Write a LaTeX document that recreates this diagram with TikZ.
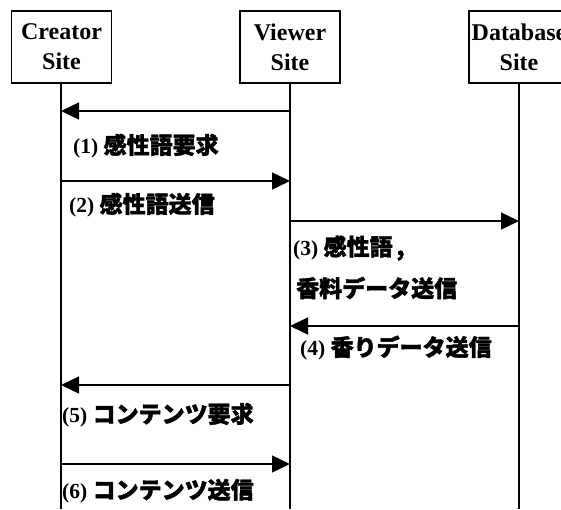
\documentclass[tikz,border=0pt]{standalone}
\usepackage{fontspec}
\setmainfont{Liberation Serif}
\newfontfamily\jpfont[BoldFeatures={FakeBold=1.6}]{Noto Sans CJK JP}
\newcommand\jtxt[1]{{\jpfont\bfseries\fontsize{23}{28}\selectfont #1}}
\usetikzlibrary{arrows.meta}
\begin{document}
\begin{tikzpicture}[x=1pt,y=-1pt,
  site/.style={draw,line width=1.6pt,minimum width=100pt,minimum height=72pt,align=center,
    font=\fontsize{24}{30}\selectfont\bfseries,inner sep=0pt},
  life/.style={line width=1.4pt},
  msg/.style={line width=1.4pt,-{Triangle[length=18pt,width=17pt]}},
  lbl/.style={anchor=west,inner sep=0pt,font=\fontsize{21.5}{24}\selectfont\bfseries}]
\useasboundingbox (0,0) rectangle (561,509);
\fill[white] (0,0) rectangle (561,509);
% headers
\node[site] (cre) at (61.5,47) {Creator\\Site};
\node[site] (vie) at (290,47) {Viewer\\Site};
\node[site] (dat) at (519,47) {Database\\Site};
% lifeline ends
\coordinate (creE) at (61,509);
\coordinate (vieE) at (290,509);
\coordinate (datE) at (519,509);
\draw[life] (cre.south -| creE) -- (creE);
\draw[life] (vie.south -| vieE) -- (vieE);
\draw[life] (dat.south -| datE) -- (datE);
% message points
\coordinate (v1) at (290,111); \coordinate (c1) at (61,111);
\coordinate (c2) at (61,181);  \coordinate (v2) at (290,181);
\coordinate (v3) at (290,221); \coordinate (d3) at (519,221);
\coordinate (d4) at (519,326); \coordinate (v4) at (290,326);
\coordinate (v5) at (290,385); \coordinate (c5) at (61,385);
\coordinate (c6) at (61,464);  \coordinate (v6) at (290,464);
\draw[msg] (v1) -- (c1);
\draw[msg] (c2) -- (v2);
\draw[msg] (v3) -- (d3);
\draw[msg] (d4) -- (v4);
\draw[msg] (v5) -- (c5);
\draw[msg] (c6) -- (v6);
% labels
\node[lbl] (l1) at (73,146) {(1) \jtxt{感性語要求}};
\node[lbl] (l2) at (69,205) {(2) \jtxt{感性語送信}};
\node[lbl] (l3) at (293,248) {(3) \jtxt{感性語\,,}};
\node[lbl] (l3b) at (296,288) {\jtxt{香料データ送信}};
\node[lbl] (l4) at (300,348) {(4) \jtxt{香りデータ送信}};
\node[lbl] (l5) at (62,415) {(5) \jtxt{コンテンツ要求}};
\node[lbl] (l6) at (62,491) {(6) \jtxt{コンテンツ送信}};
\end{tikzpicture}
\end{document}
